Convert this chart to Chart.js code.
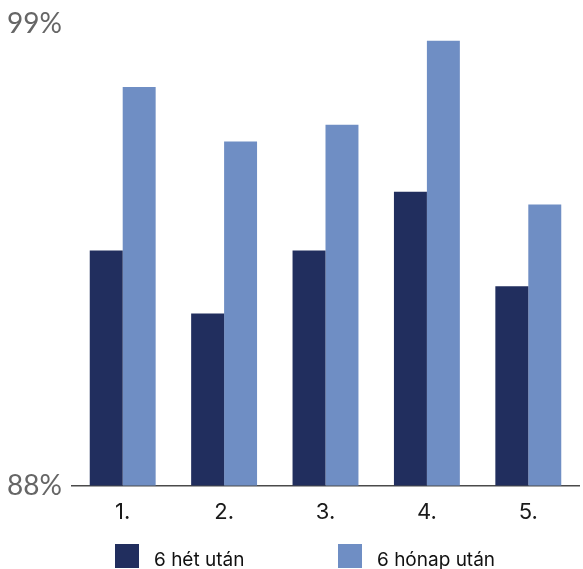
<!DOCTYPE html>
<html>
<head>
<meta charset="utf-8">
<script src="https://cdn.jsdelivr.net/npm/chart.js@4"></script>
<style>
  html, body { margin: 0; padding: 0; background: #fff; overflow: hidden; }
  #wrap { position: relative; width: 583px; height: 569px; }
  #legend { position: absolute; left: 0; top: 544px; width: 583px; height: 25px; font-family: Inter, sans-serif; font-size: 19px; color: #111; }
  .legend-item { position: absolute; top: 0; display: flex; align-items: center; height: 24px; }
  .legend-box { width: 24px; height: 24px; margin-right: 15px; }
  .legend-text { position: relative; top: 3px; white-space: nowrap; }
</style>
</head>
<body>
<div id="wrap">
  <canvas id="chart" width="583" height="569"></canvas>
  <div id="legend"></div>
</div>
<script>
const categories = ['1.', '2.', '3.', '4.', '5.'];
const weeks6 = [93.6, 92.1, 93.6, 95.0, 92.75];
const months6 = [97.5, 96.2, 96.6, 98.6, 94.7];
const yTicks = [88, 99];

const seriesNames = ['6 hét után', '6 hónap után'];
const colors = ['#212e5e', '#6f8ec4'];
const legendX = [115, 338];

const ctx = document.getElementById('chart').getContext('2d');

const chart = new Chart(ctx, {
  type: 'bar',
  data: {
    labels: categories,
    datasets: [
      { label: seriesNames[0], data: weeks6, backgroundColor: colors[0], borderWidth: 0 },
      { label: seriesNames[1], data: months6, backgroundColor: colors[1], borderWidth: 0 }
    ]
  },
  options: {
    responsive: false,
    animation: false,
    layout: { padding: { left: 8, right: 4, top: 24, bottom: 29 } },
    datasets: {
      bar: { categoryPercentage: 0.65, barPercentage: 1.0 }
    },
    plugins: {
      legend: { display: false },
      tooltip: { enabled: false }
    },
    scales: {
      x: {
        grid: { display: false, drawTicks: false },
        border: { display: true, color: '#4a4a4a', width: 1.5 },
        ticks: {
          color: '#1a1a1a',
          padding: 14,
          font: { family: 'Inter', size: 22 }
        }
      },
      y: {
        min: 88,
        max: 99,
        grid: { display: false, drawTicks: false },
        border: { display: false },
        afterBuildTicks: scale => {
          scale.ticks = yTicks.map(v => ({ value: v }));
        },
        afterFit: scale => {
          scale.width = 64;
        },
        ticks: {
          color: '#666666',
          padding: 10,
          font: { family: 'Lato', size: 28, lineHeight: 1 },
          callback: v => v + '%'
        }
      }
    }
  }
});

// legend drawn as html below the plot
const legend = document.getElementById('legend');
chart.data.datasets.forEach((ds, i) => {
  const item = document.createElement('div');
  item.className = 'legend-item';
  item.style.left = legendX[i] + 'px';
  item.innerHTML = `<div class="legend-box" style="background:${ds.backgroundColor}"></div><span class="legend-text">${ds.label}</span>`;
  legend.appendChild(item);
});
</script>
</body>
</html>
